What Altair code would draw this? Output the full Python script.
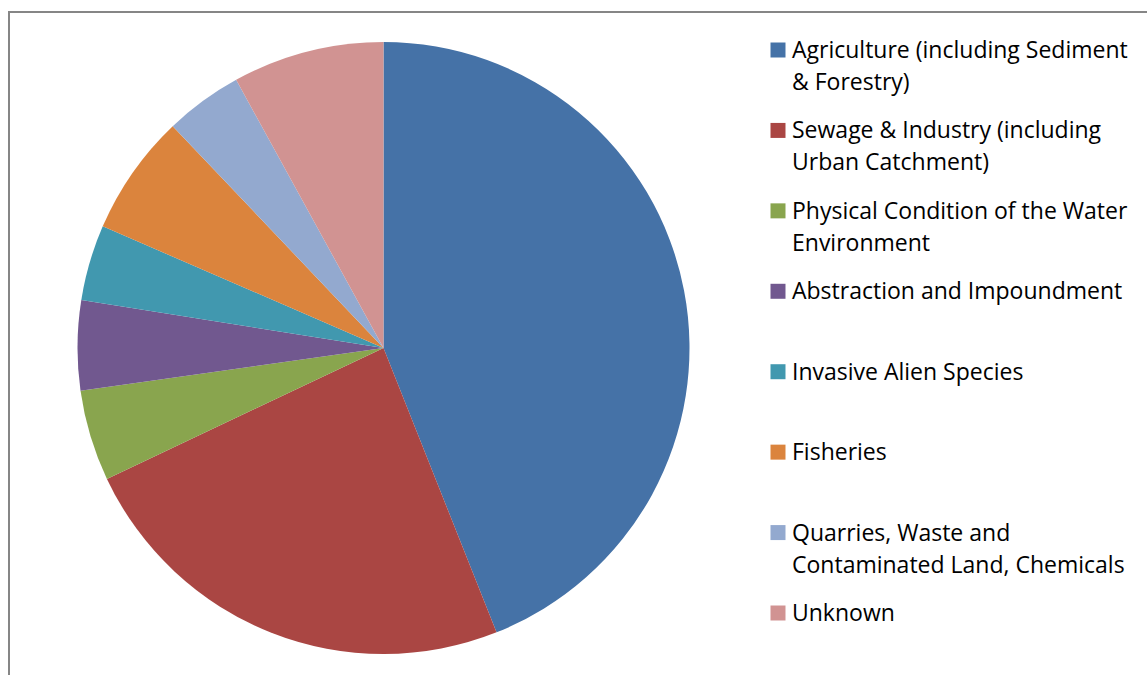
import altair as alt
import pandas as pd

categories = [
    "Agriculture (including Sediment & Forestry)",
    "Sewage & Industry (including Urban Catchment)",
    "Physical Condition of the Water Environment",
    "Abstraction and Impoundment",
    "Invasive Alien Species",
    "Fisheries",
    "Quarries, Waste and Contaminated Land, Chemicals",
    "Unknown",
]
legend_labels = [
    "Agriculture (including Sediment\n& Forestry)",
    "Sewage & Industry (including\nUrban Catchment)",
    "Physical Condition of the Water\nEnvironment",
    "Abstraction and Impoundment",
    "Invasive Alien Species",
    "Fisheries",
    "Quarries, Waste and\nContaminated Land, Chemicals",
    "Unknown",
]
values = [44.0, 24.0, 4.8, 4.75, 4.0, 6.4, 4.1, 8.0]
colors = ["#4572A7", "#AA4643", "#89A54E", "#71588F",
          "#4198AF", "#DB843D", "#93A9CF", "#D19392"]

df = pd.DataFrame({
    "category": categories,
    "label": legend_labels,
    "value": values,
    "idx": list(range(len(categories))),
})

color_scale = alt.Scale(domain=categories, range=colors)
base = alt.Chart(df)

pie = base.mark_arc(radius=306).encode(
    theta=alt.Theta("value:Q", stack=True),
    color=alt.Color("category:N", scale=color_scale, legend=None),
    order=alt.Order("idx:Q"),
    x=alt.value(374.5),
    y=alt.value(336),
)

ypos = alt.Y("category:N", scale=alt.Scale(type="point", domain=categories,
                                           range=[38, 601], padding=0),
             axis=None)

squares = base.mark_square(size=225, opacity=1).encode(
    x=alt.value(769),
    y=ypos,
    color=alt.Color("category:N", scale=color_scale, legend=None),
)

texts = base.mark_text(
    align="left", baseline="alphabetic", dy=8,
    font="Open Sans", fontSize=23, lineBreak="\n", lineHeight=32, color="#000000",
).encode(
    x=alt.value(783),
    y=ypos,
    text="label:N",
)

chart = alt.layer(pie, squares, texts).properties(
    width=1138, height=663,
    autosize=alt.AutoSizeParams(type="none"),
    padding={"left": 9, "top": 12, "right": 0, "bottom": 0},
    background="white",
).configure_view(
    stroke="#868686", strokeWidth=2,
    strokeDash=[1138, 1801, 663],
)

chart.save("out.html", embed_options={"renderer": "svg", "actions": False})
